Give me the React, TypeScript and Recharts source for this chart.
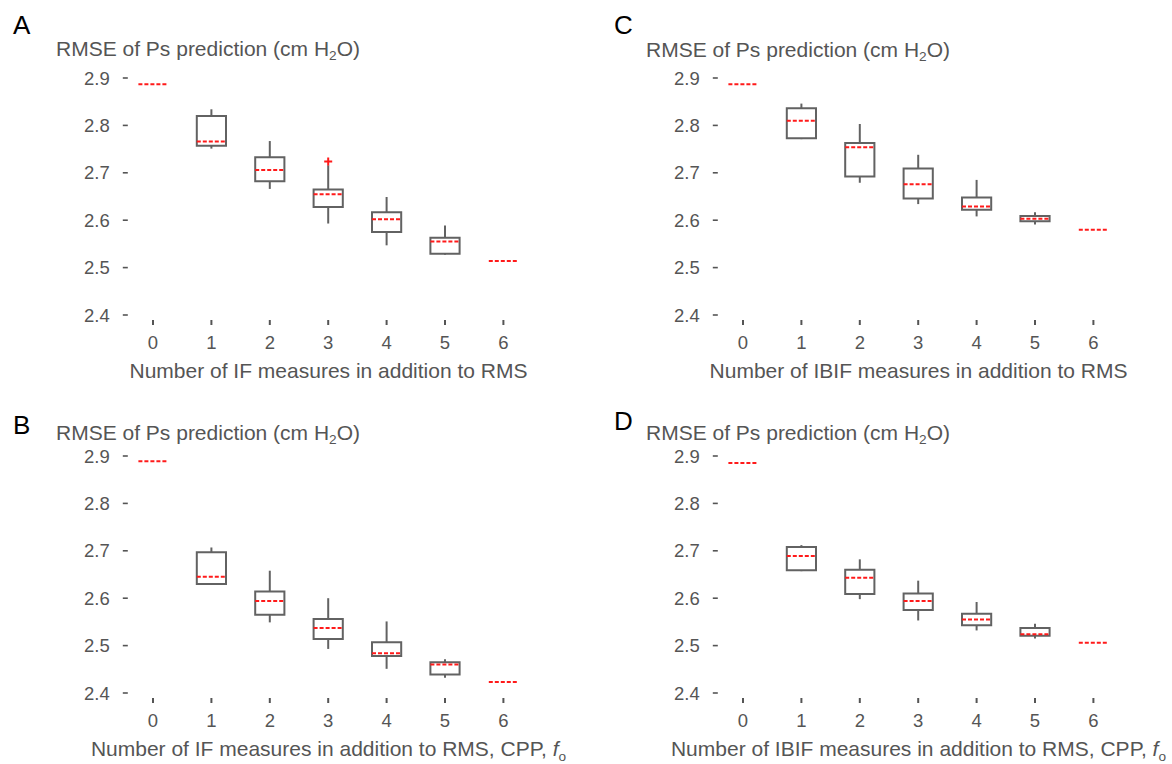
import React from "react";
import { ComposedChart, XAxis, YAxis, ReferenceArea, ReferenceLine, Scatter } from "recharts";

const MEASURES = [0, 1, 2, 3, 4, 5, 6];
const Y_TICKS = [2.4, 2.5, 2.6, 2.7, 2.8, 2.9];

// A: IF measures added to RMS
const A_MED = [2.887, 2.766, 2.706, 2.655, 2.602, 2.555, 2.514];
const A_Q1 = [null, 2.757, 2.682, 2.628, 2.575, 2.529, null];
const A_Q3 = [null, 2.820, 2.733, 2.665, 2.617, 2.563, null];
const A_LO = [null, 2.751, 2.666, 2.593, 2.547, 2.527, null];
const A_HI = [null, 2.834, 2.767, 2.716, 2.649, 2.589, null];
const A_OUT = [{ x: 3, y: 2.724 }];

// C: IBIF measures added to RMS
const C_MED = [2.887, 2.810, 2.754, 2.676, 2.629, 2.603, 2.580];
const C_Q1 = [null, 2.773, 2.692, 2.646, 2.622, 2.598, null];
const C_Q3 = [null, 2.836, 2.763, 2.709, 2.648, 2.609, null];
const C_LO = [null, 2.771, 2.679, 2.634, 2.608, 2.591, null];
const C_HI = [null, 2.846, 2.803, 2.738, 2.685, 2.617, null];

// B: IF measures added to RMS, CPP, fo
const B_MED = [2.889, 2.645, 2.594, 2.537, 2.484, 2.460, 2.423];
const B_Q1 = [null, 2.630, 2.565, 2.514, 2.478, 2.439, null];
const B_Q3 = [null, 2.697, 2.614, 2.556, 2.507, 2.465, null];
const B_LO = [null, 2.628, 2.549, 2.493, 2.451, 2.432, null];
const B_HI = [null, 2.707, 2.658, 2.600, 2.551, 2.471, null];

// D: IBIF measures added to RMS, CPP, fo
const D_MED = [2.885, 2.689, 2.643, 2.594, 2.555, 2.524, 2.506];
const D_Q1 = [null, 2.659, 2.609, 2.575, 2.543, 2.521, null];
const D_Q3 = [null, 2.708, 2.660, 2.610, 2.567, 2.537, null];
const D_LO = [null, 2.657, 2.598, 2.553, 2.532, 2.515, null];
const D_HI = [null, 2.712, 2.682, 2.637, 2.592, 2.546, null];

const TEXT = "#555";
const AXIS = "#555";
const BOX = "#626262";
const RED = "#ff1a1a";
const HALF = 0.25;
const FONT = "'Liberation Sans', Arial, sans-serif";

const YTick = ({ x, y, payload }: any) => (
  <g>
    <line x1={x - 1} x2={x + 4} y1={y} y2={y} stroke={AXIS} strokeWidth={1.6} />
    <text x={x - 14} y={y} textAnchor="end" dominantBaseline="central" fill={TEXT} fontSize={18.5}>
      {Number(payload.value).toFixed(1)}
    </text>
  </g>
);

const XTick = ({ x, y, payload }: any) => (
  <g>
    <line x1={x} x2={x} y1={y + 5} y2={y + 10} stroke={AXIS} strokeWidth={2} />
    <text x={x} y={y + 27} textAnchor="middle" dominantBaseline="central" fill={TEXT} fontSize={18.5}>
      {payload.value}
    </text>
  </g>
);

const Plus = ({ cx, cy }: any) => (
  <g stroke={RED} strokeWidth={2}>
    <line x1={cx - 4} x2={cx + 4} y1={cy} y2={cy} />
    <line x1={cx} x2={cx} y1={cy - 4} y2={cy + 4} />
  </g>
);

type BoxProps = {
  med: number[];
  q1: (number | null)[];
  q3: (number | null)[];
  lo: (number | null)[];
  hi: (number | null)[];
  outliers?: { x: number; y: number }[];
};

function BoxChart({ med, q1, q3, lo, hi, outliers = [] }: BoxProps) {
  return (
    <ComposedChart width={580} height={386} margin={{ top: 78, right: 47.4, bottom: 31, left: 63.8 }}>
      <XAxis type="number" dataKey="x" domain={[-0.5, 6.5]} ticks={MEASURES} tick={<XTick />}
        tickSize={0} tickMargin={0} axisLine={false} tickLine={false} height={40} allowDataOverflow />
      <YAxis type="number" dataKey="y" domain={[2.4, 2.9]} ticks={Y_TICKS} tick={<YTick />}
        tickSize={0} tickMargin={0} axisLine={false} tickLine={false} width={60} allowDataOverflow />
      {MEASURES.map((m, i) =>
        hi[i] == null ? null : (
          <ReferenceLine key={`wh${i}`} segment={[{ x: m, y: q3[i] as number }, { x: m, y: hi[i] as number }]}
            stroke={BOX} strokeWidth={2} />
        )
      )}
      {MEASURES.map((m, i) =>
        lo[i] == null ? null : (
          <ReferenceLine key={`wl${i}`} segment={[{ x: m, y: lo[i] as number }, { x: m, y: q1[i] as number }]}
            stroke={BOX} strokeWidth={2} />
        )
      )}
      {MEASURES.map((m, i) =>
        q1[i] == null ? null : (
          <ReferenceArea key={`bx${i}`} x1={m - HALF} x2={m + HALF} y1={q1[i] as number} y2={q3[i] as number}
            fill="none" fillOpacity={0} stroke={BOX} strokeWidth={2} strokeOpacity={1} />
        )
      )}
      {MEASURES.map((m, i) => (
        <ReferenceLine key={`md${i}`} segment={[{ x: m - HALF, y: med[i] }, { x: m + HALF, y: med[i] }]}
          stroke={RED} strokeWidth={2} strokeDasharray="4 2" />
      ))}
      <Scatter data={outliers} dataKey="y" shape={<Plus />} isAnimationActive={false} />
    </ComposedChart>
  );
}

const YTitle = () => (
  <>
    RMSE of Ps prediction (cm H<sub style={{ fontSize: "0.65em", verticalAlign: "-0.3em", lineHeight: 0 }}>2</sub>O)
  </>
);

const FoSuffix = () => (
  <>
    , <i>f</i>
    <sub style={{ fontSize: "0.65em", verticalAlign: "-0.4em", lineHeight: 0 }}>o</sub>
  </>
);

const abs = (left: number, top: number, extra: React.CSSProperties = {}): React.CSSProperties => ({
  position: "absolute", left, top, lineHeight: 1, whiteSpace: "nowrap", ...extra,
});

export default function App() {
  const letter = { fontSize: 26, color: "#000" };
  const title = { fontSize: 21, color: TEXT };
  const xTitle = (cx: number, top: number): React.CSSProperties =>
    abs(cx - 300, top, { width: 600, textAlign: "center", fontSize: 21, color: TEXT });

  return (
    <div style={{ position: "absolute", left: 0, top: 0, width: 1172, height: 764, background: "#fff", fontFamily: FONT, overflow: "hidden" }}>
      <div style={abs(0, 0)}>
        <BoxChart med={A_MED} q1={A_Q1} q3={A_Q3} lo={A_LO} hi={A_HI} outliers={A_OUT} />
      </div>
      <div style={abs(590, 0)}>
        <BoxChart med={C_MED} q1={C_Q1} q3={C_Q3} lo={C_LO} hi={C_HI} />
      </div>
      <div style={abs(0, 378)}>
        <BoxChart med={B_MED} q1={B_Q1} q3={B_Q3} lo={B_LO} hi={B_HI} />
      </div>
      <div style={abs(590, 378)}>
        <BoxChart med={D_MED} q1={D_Q1} q3={D_Q3} lo={D_LO} hi={D_HI} />
      </div>

      <div style={abs(13, 11.6, letter)}>A</div>
      <div style={abs(56, 37.8, title)}><YTitle /></div>
      <div style={xTitle(328.5, 359.8)}>Number of IF measures in addition to RMS</div>

      <div style={abs(614, 11.6, letter)}>C</div>
      <div style={abs(646, 38.8, title)}><YTitle /></div>
      <div style={xTitle(918.5, 359.8)}>Number of IBIF measures in addition to RMS</div>

      <div style={abs(13, 411.6, letter)}>B</div>
      <div style={abs(56, 421.8, title)}><YTitle /></div>
      <div style={xTitle(328.5, 738)}>Number of IF measures in addition to RMS, CPP<FoSuffix /></div>

      <div style={abs(614, 408.4, letter)}>D</div>
      <div style={abs(646, 421.8, title)}><YTitle /></div>
      <div style={xTitle(918.5, 738)}>Number of IBIF measures in addition to RMS, CPP<FoSuffix /></div>
    </div>
  );
}
